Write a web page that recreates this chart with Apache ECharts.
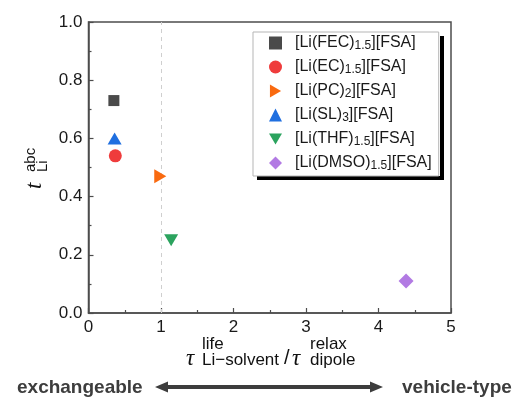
<!DOCTYPE html>
<html>
<head>
<meta charset="utf-8">
<script src="https://cdn.jsdelivr.net/npm/echarts@6/dist/echarts.min.js"></script>
<style>
html,body{margin:0;padding:0;background:#fff;}
#chart{width:515px;height:397px;}
</style>
</head>
<body>
<div id="chart"></div>
<script>
// ---- data ----
const solvents = ['FEC', 'EC', 'PC', 'SL', 'THF', 'DMSO'];
const stoich = ['1.5', '1.5', '2', '3', '1.5', '1.5'];
const xValues = [0.35, 0.37, 0.99, 0.36, 1.14, 4.38];   // tau_life / tau_relax
const yValues = [0.73, 0.54, 0.47, 0.60, 0.25, 0.11];   // t_Li^abc
const xTicks = [0, 1, 2, 3, 4, 5];
const yTicks = [0.0, 0.2, 0.4, 0.6, 0.8, 1.0];

// ---- styles ----
const colors = ['#4a4a4a', '#ef3c3c', '#f96a10', '#1f6fe0', '#2ba35e', '#b27ae3'];
const symbols = ['rect', 'circle', 'triangle', 'triangle', 'triangle', 'diamond'];
const rotations = [0, 0, -90, 0, 180, 0];
const sizes = [11, 13, [14, 12], [14, 12], [14, 12], 15];
const legendIcons = ['rect', 'circle', 'path://M0,0L12,7L0,14Z', 'triangle', 'path://M0,0L14,0L7,12Z', 'diamond'];
const FONT = 'Liberation Sans, Arial, Helvetica, sans-serif';
const SERIF = 'Liberation Serif, Times New Roman, serif';
const axisColor = '#4d4d4d';

const names = solvents.map((s, i) => '[Li(' + s + ')' + stoich[i] + '][FSA]');
const richNames = {};
solvents.forEach((s, i) => { richNames[names[i]] = '[Li(' + s + '){s|' + stoich[i] + '}][FSA]'; });

const series = solvents.map((s, i) => ({
  name: names[i],
  type: 'scatter',
  symbol: symbols[i],
  symbolRotate: rotations[i],
  symbolSize: sizes[i],
  itemStyle: { color: colors[i], opacity: 1 },
  data: [[xValues[i], yValues[i]]],
  z: 5
}));
series[0].markLine = {
  silent: true,
  symbol: 'none',
  label: { show: false },
  lineStyle: { type: [4, 4], color: '#cfcfcf', width: 1 },
  data: [{ xAxis: 1 }]
};

const chart = echarts.init(document.getElementById('chart'), null, { renderer: 'canvas' });
const yLabelGroup = {
  type: 'group',
  x: 0, y: 189,
  rotation: Math.PI / 2,
  children: [
    { type: 'text', style: { text: 't', x: 0, y: 35, font: 'italic 23px ' + SERIF, fill: '#111', textAlign: 'left', textVerticalAlign: 'middle' } },
    { type: 'text', style: { text: 'abc', x: 17, y: 31, font: '15px ' + FONT, fill: '#111', textAlign: 'left', textVerticalAlign: 'middle' } },
    { type: 'text', style: { text: 'Li', x: 17, y: 43, font: '15px ' + FONT, fill: '#111', textAlign: 'left', textVerticalAlign: 'middle' } }
  ]
};
function t(text, x, y, font, fill) {
  return { type: 'text', style: { text: text, x: x, y: y, font: font, fill: fill || '#111', textAlign: 'left', textVerticalAlign: 'middle' } };
}
chart.setOption({
  animation: false,
  backgroundColor: '#fff',
  textStyle: { fontFamily: FONT },
  grid: {
    left: 88.5, right: 64, top: 22, bottom: 84,
    show: true, borderColor: axisColor, borderWidth: 1.5, backgroundColor: 'transparent'
  },
  xAxis: {
    type: 'value', min: xTicks[0], max: xTicks[xTicks.length - 1], interval: 1,
    axisLine: { show: true, onZero: false, lineStyle: { color: axisColor, width: 1.5 } },
    axisTick: { show: true, inside: true, length: 5, lineStyle: { color: axisColor, width: 1.2 } },
    minorTick: { show: true, splitNumber: 2, length: 3, lineStyle: { color: axisColor, width: 1.2 } },
    splitLine: { show: false },
    axisLabel: { fontSize: 17, color: '#1a1a1a', margin: 6, fontFamily: FONT,
      formatter: v => xTicks.includes(v) ? String(v) : '' }
  },
  yAxis: {
    type: 'value', min: yTicks[0], max: yTicks[yTicks.length - 1], interval: 0.2,
    axisLine: { show: true, onZero: false, lineStyle: { color: axisColor, width: 1.5 } },
    axisTick: { show: true, inside: true, length: 5, lineStyle: { color: axisColor, width: 1.2 } },
    minorTick: { show: true, splitNumber: 2, length: 3, lineStyle: { color: axisColor, width: 1.2 } },
    splitLine: { show: false },
    axisLabel: { fontSize: 17, color: '#1a1a1a', margin: 6, fontFamily: FONT,
      formatter: v => v.toFixed(1) }
  },
  legend: {
    orient: 'vertical',
    left: 253, top: 32,
    padding: [2, 7, 4, 16],
    itemWidth: 13, itemHeight: 13,
    itemGap: 6,
    backgroundColor: '#fff',
    borderColor: '#b5b5b5', borderWidth: 1,
    data: names.map((n, i) => ({ name: n, icon: legendIcons[i] })),
    formatter: n => richNames[n],
    textStyle: {
      fontFamily: FONT, fontSize: 16, color: '#1a1a1a', lineHeight: 18, padding: [0, 0, 0, 8],
      rich: { s: { fontFamily: FONT, fontSize: 12, color: '#1a1a1a', lineHeight: 8, verticalAlign: 'bottom' } }
    }
  },
  graphic: [
    // hard drop shadow of the legend frame (decoration): right strip and bottom strip
    { type: 'rect', left: 440, top: 36, shape: { width: 4, height: 144 }, style: { fill: '#000' } },
    { type: 'rect', left: 257, top: 176, shape: { width: 187, height: 4 }, style: { fill: '#000' } },
    yLabelGroup,
    t('\u03c4', 186, 359, 'italic 23px ' + SERIF),
    t('life', 202, 344, '17px ' + FONT),
    t('Li\u2212solvent', 202, 360, '17px ' + FONT),
    t('/', 284, 358, '20px ' + FONT),
    t('\u03c4', 292, 359, 'italic 23px ' + SERIF),
    t('relax', 310, 344, '17px ' + FONT),
    t('dipole', 310, 360, '17px ' + FONT),
    t('exchangeable', 17, 388, 'bold 19px ' + FONT, '#3d3d3d'),
    t('vehicle-type', 402, 388, 'bold 19px ' + FONT, '#3d3d3d'),
    {
      type: 'polygon',
      shape: { points: [[155, 387], [168, 381.5], [168, 385], [370, 385], [370, 381.5], [383, 387], [370, 392.5], [370, 389], [168, 389], [168, 392.5]] },
      style: { fill: '#3d3d3d' }
    }
  ],
  series: series
});
</script>
</body>
</html>
